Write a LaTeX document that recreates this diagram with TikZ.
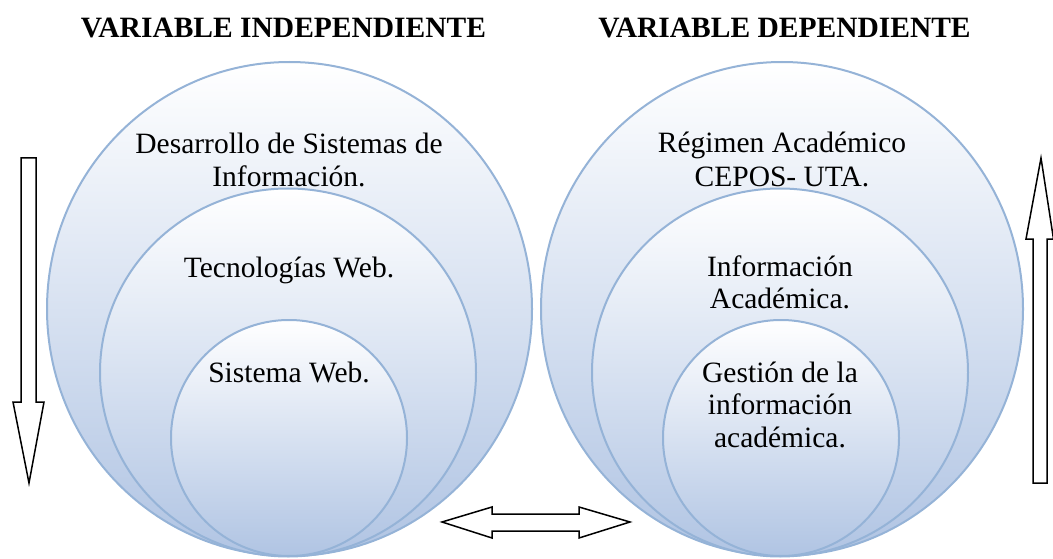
\documentclass[tikz,border=0pt]{standalone}
\usepackage{fontspec}
\setmainfont{Liberation Serif}
\newfontfamily\bodyserif{Liberation Serif}
\definecolor{ringline}{RGB}{149,179,215}
\definecolor{ringfill}{RGB}{176,196,227}
\tikzset{
  ring/.style={draw=ringline, line width=2pt, top color=white, bottom color=ringfill},
  title/.style={font=\bodyserif\fontsize{29.5}{33}\selectfont\bfseries, anchor=base, inner sep=0pt},
  lbl/.style={font=\bodyserif\fontsize{29.5}{33}\selectfont, anchor=base, inner sep=0pt, align=center},
  blockarrow/.style={draw=black, line width=1.5pt, fill=white, line join=miter}
}
\begin{document}
\begin{tikzpicture}[x=1pt,y=-1pt]
\useasboundingbox (0,0) rectangle (1053,559);
% left circles
\path[ring] (289.5,309) ellipse [x radius=242.5, y radius=247];
\path[ring] (288,372.5) ellipse [x radius=188, y radius=184];
\path[ring] (289,438) ellipse [x radius=118, y radius=118];
% right circles
\path[ring] (782,309) ellipse [x radius=241, y radius=247];
\path[ring] (780,372.5) ellipse [x radius=188, y radius=184];
\path[ring] (781,438) ellipse [x radius=118, y radius=118];
% titles
\node[title] (tl) at (283.5,38) {VARIABLE INDEPENDIENTE};
\node[title] (tr) at (784.5,38) {VARIABLE DEPENDIENTE};
% labels left
\node[lbl] (l1a) at (289,154) {Desarrollo de Sistemas de};
\node[lbl] (l1b) at (289,187) {Información.};
\node[lbl] (l2) at (289,277) {Tecnologías Web.};
\node[lbl] (l3) at (289,382) {Sistema Web.};
% labels right
\node[lbl] (r1a) at (782,153) {Régimen Académico};
\node[lbl] (r1b) at (782,187) {CEPOS- UTA.};
\node[lbl] (r2a) at (780,276) {Información};
\node[lbl] (r2b) at (780,308) {Académica.};
\node[lbl] (r3a) at (780,382) {Gestión de la};
\node[lbl] (r3b) at (780,414) {información};
\node[lbl] (r3c) at (780,447) {académica.};
% down arrow (left)
\draw[blockarrow] (21,158) -- (36,158) -- (36,402) -- (44,402) -- (29,483) -- (13,402) -- (21,402) -- cycle;
% up arrow (right)
\draw[blockarrow] (1033,483) -- (1047,483) -- (1047,239) -- (1053.5,239) -- (1041,158) -- (1026,239) -- (1033,239) -- cycle;
% double arrow (bottom)
\draw[blockarrow] (442,522) -- (492,507) -- (492,514) -- (579,514) -- (579,507) -- (630,522) -- (579,538) -- (579,531) -- (492,531) -- (492,538) -- cycle;
\end{tikzpicture}
\end{document}
